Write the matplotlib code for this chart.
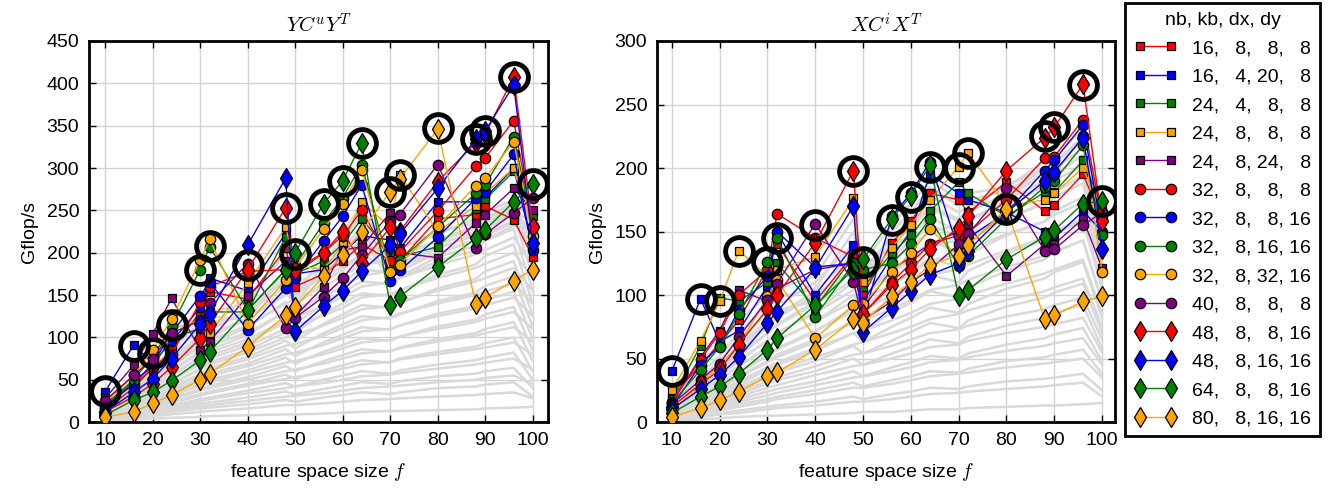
import numpy as np
import matplotlib
matplotlib.use("Agg")
import matplotlib.pyplot as plt

plt.rcParams['font.family'] = ['Liberation Sans', 'DejaVu Sans']
plt.rcParams['mathtext.fontset'] = 'cm'

# feature space sizes
f = [10, 16, 20, 24, 30, 32, 40, 48, 50, 56, 60, 64, 70, 72, 80, 88, 90, 96, 100]

# configurations nb, kb, dx, dy
configs = [(16, 8, 8, 8), (16, 4, 20, 8), (24, 4, 8, 8), (24, 8, 8, 8), (24, 8, 24, 8),
           (32, 8, 8, 8), (32, 8, 8, 16), (32, 8, 16, 16), (32, 8, 32, 16), (40, 8, 8, 8),
           (48, 8, 8, 16), (48, 8, 16, 16), (64, 8, 8, 16), (80, 8, 16, 16)]
colors = ['red', 'blue', 'green', 'orange', 'purple',
          'red', 'blue', 'green', 'orange', 'purple',
          'red', 'blue', 'green', 'orange']
markers = ['s'] * 5 + ['o'] * 5 + ['d'] * 4

# Gflop/s for Y C^u Y^T
gflops_u = [
    [22, 45, 62, 85, 130, 154, 145, 205, 160, 175, 190, 210, 191, 190, 240, 245, 255, 239, 195],
    [36, 91, 70, 95, 135, 170, 155, 223, 175, 180, 200, 220, 215, 205, 260, 260, 265, 300, 205],
    [20, 48, 65, 100, 110, 130, 130, 219, 175, 190, 210, 240, 200, 195, 207, 251, 263, 296, 243],
    [25, 55, 75, 110, 120, 105, 164, 230, 185, 180, 210, 260, 230, 292, 225, 255, 270, 300, 225],
    [28, 67, 104, 146, 85, 95, 149, 190, 125, 160, 203, 207, 247, 200, 194, 235, 245, 276, 250],
    [15, 40, 65, 80, 142, 160, 178, 180, 175, 200, 220, 250, 190, 201, 249, 302, 312, 356, 231],
    [18, 45, 69, 105, 149, 165, 109, 158, 170, 214, 243, 280, 167, 179, 218, 264, 272, 316, 203],
    [20, 50, 77, 113, 180, 207, 132, 180, 185, 235, 265, 304, 180, 191, 230, 270, 280, 337, 230],
    [22, 55, 85, 122, 191, 216, 116, 168, 182, 228, 258, 298, 177, 186, 231, 279, 288, 331, 220],
    [25, 55, 75, 105, 120, 140, 187, 111, 123, 148, 170, 197, 237, 245, 304, 205, 222, 247, 264],
    [12, 30, 45, 65, 99, 116, 180, 253, 180, 200, 225, 188, 230, 225, 284, 330, 340, 408, 230],
    [12, 35, 51, 75, 116, 128, 209, 288, 107, 137, 155, 178, 209, 222, 276, 334, 344, 398, 211],
    [8, 26, 35, 49, 73, 83, 132, 180, 200, 258, 285, 329, 138, 148, 183, 217, 227, 260, 281],
    [6, 12, 22, 32, 50, 57, 89, 126, 136, 172, 197, 225, 272, 287, 346, 139, 147, 167, 180],
]

# Gflop/s for X C^i X^T
gflops_i = [
    [20, 45, 62, 80, 121, 140, 95, 132, 100, 141, 158, 180, 175, 165, 189, 166, 171, 195, 160],
    [40, 97, 63, 72, 107, 149, 100, 139, 95, 130, 150, 195, 180, 175, 165, 150, 145, 166, 150],
    [18, 60, 98, 95, 110, 125, 90, 130, 106, 133, 147, 166, 189, 180, 162, 181, 181, 206, 170],
    [25, 64, 95, 135, 115, 120, 130, 176, 110, 137, 155, 175, 201, 212, 170, 175, 180, 200, 165],
    [15, 51, 72, 104, 95, 105, 120, 125, 90, 120, 130, 140, 150, 155, 115, 140, 140, 160, 121],
    [16, 49, 70, 100, 120, 164, 145, 130, 85, 110, 125, 140, 147, 149, 175, 208, 209, 238, 160],
    [12, 45, 60, 88, 115, 150, 122, 125, 80, 162, 180, 205, 135, 145, 165, 198, 206, 234, 150],
    [15, 41, 59, 85, 126, 145, 83, 125, 120, 125, 140, 160, 123, 131, 160, 185, 190, 218, 147],
    [8, 30, 45, 60, 99, 112, 66, 92, 93, 118, 133, 152, 130, 140, 165, 190, 195, 225, 118],
    [14, 33, 46, 67, 96, 109, 156, 110, 80, 95, 110, 120, 140, 148, 184, 135, 136, 155, 165],
    [12, 30, 41, 61, 89, 100, 141, 198, 85, 108, 120, 136, 153, 162, 198, 224, 232, 266, 158],
    [10, 26, 37, 51, 78, 87, 121, 170, 71, 90, 103, 116, 125, 135, 165, 190, 197, 224, 136],
    [7, 20, 28, 38, 57, 66, 92, 120, 128, 160, 178, 202, 99, 104, 128, 146, 151, 172, 174],
    [4, 11, 17, 24, 36, 39, 57, 81, 78, 99, 110, 124, 131, 139, 168, 81, 84, 95, 99],
]

# best configuration per f (black rings)
best_u = [37, 90, 82, 115, 180, 208, 186, 253, 198, 258, 285, 330, 272, 292, 347, 334, 344, 407, 281]
best_i = [40, 97, 95, 135, 126, 145, 155, 198, 126, 159, 177, 201, 200, 212, 168, 225, 232, 265, 174]

# all other configurations (grey)
gray_u = [
    [2, 3, 4, 5, 6, 7, 8, 9, 9, 10, 11, 12, 13, 13, 14, 15, 16, 17, 18],
    [2, 5, 7, 9, 12, 13, 16, 20, 20, 22, 24, 26, 27, 28, 30, 32, 33, 35, 28],
    [3, 8, 10, 14, 18, 20, 25, 30, 31, 34, 37, 40, 42, 43, 47, 50, 52, 55, 45],
    [4, 10, 14, 18, 24, 27, 34, 40, 42, 46, 50, 54, 56, 58, 63, 68, 70, 75, 62],
    [5, 12, 17, 23, 31, 34, 43, 51, 53, 58, 63, 68, 71, 74, 80, 86, 88, 94, 80],
    [5, 14, 20, 27, 37, 40, 50, 60, 62, 69, 75, 81, 84, 87, 95, 102, 105, 112, 95],
    [6, 16, 23, 31, 43, 47, 58, 70, 72, 80, 87, 94, 97, 101, 110, 118, 122, 130, 110],
    [7, 18, 26, 35, 49, 54, 66, 80, 82, 91, 99, 107, 110, 114, 125, 134, 138, 147, 125],
    [8, 21, 29, 40, 55, 61, 74, 90, 92, 102, 111, 120, 124, 128, 140, 150, 154, 164, 140],
    [9, 23, 32, 45, 62, 68, 82, 100, 103, 114, 123, 133, 137, 142, 155, 166, 170, 182, 155],
    [10, 25, 36, 50, 68, 75, 90, 110, 114, 126, 135, 147, 151, 156, 170, 182, 187, 200, 170],
    [11, 28, 40, 55, 75, 82, 98, 120, 124, 137, 148, 160, 165, 170, 185, 198, 203, 218, 185],
    [12, 30, 43, 60, 82, 90, 106, 130, 134, 148, 160, 173, 178, 184, 200, 214, 220, 236, 200],
    [13, 33, 47, 65, 89, 97, 114, 140, 145, 160, 172, 186, 191, 197, 214, 229, 235, 252, 215],
    [14, 36, 51, 70, 96, 104, 122, 150, 155, 170, 184, 198, 180, 188, 205, 222, 228, 245, 240],
    [15, 38, 55, 75, 103, 112, 130, 160, 150, 175, 195, 215, 170, 178, 200, 215, 222, 238, 230],
    [16, 40, 58, 80, 110, 118, 126, 170, 140, 180, 205, 230, 165, 172, 195, 208, 215, 232, 225],
    [17, 42, 60, 85, 118, 125, 120, 180, 135, 190, 215, 245, 175, 180, 210, 225, 230, 250, 205],
    [18, 44, 62, 88, 125, 130, 140, 200, 145, 200, 225, 255, 190, 195, 215, 230, 236, 255, 245],
    [12, 35, 50, 72, 100, 110, 150, 190, 160, 185, 200, 225, 200, 205, 225, 235, 240, 260, 250],
    [3, 6, 9, 12, 16, 17, 21, 26, 24, 29, 32, 35, 33, 35, 40, 42, 44, 47, 30],
    [4, 9, 12, 16, 21, 23, 29, 36, 33, 39, 43, 47, 45, 48, 54, 57, 60, 64, 40],
    [5, 11, 15, 20, 27, 29, 37, 46, 42, 50, 55, 60, 57, 61, 68, 73, 76, 82, 50],
    [6, 13, 18, 24, 33, 36, 45, 56, 51, 61, 67, 73, 70, 75, 83, 89, 93, 100, 60],
    [6, 15, 21, 28, 39, 43, 53, 66, 60, 72, 79, 86, 83, 88, 98, 105, 110, 118, 72],
    [7, 17, 24, 33, 45, 50, 61, 76, 69, 83, 91, 99, 96, 101, 113, 121, 127, 136, 85],
    [8, 19, 27, 37, 51, 57, 69, 86, 78, 94, 103, 112, 109, 114, 128, 137, 144, 154, 98],
    [9, 21, 30, 41, 57, 64, 77, 96, 87, 105, 115, 125, 122, 127, 143, 153, 161, 172, 112],
    [10, 23, 33, 45, 63, 71, 85, 106, 96, 116, 127, 138, 135, 140, 158, 169, 178, 190, 126],
    [11, 26, 37, 50, 70, 78, 94, 118, 106, 128, 140, 152, 149, 155, 174, 186, 196, 210, 140],
    [12, 29, 41, 55, 77, 85, 103, 130, 116, 140, 153, 166, 163, 170, 190, 203, 214, 228, 155],
    [13, 32, 45, 60, 84, 92, 112, 142, 126, 152, 166, 180, 177, 185, 206, 220, 232, 246, 170],
    [14, 35, 49, 66, 91, 100, 122, 155, 137, 165, 180, 196, 185, 195, 215, 232, 240, 255, 190],
    [15, 38, 53, 72, 99, 108, 132, 168, 148, 178, 195, 212, 195, 205, 222, 240, 248, 262, 210],
]
gray_i = [
    [1, 2, 3, 4, 5, 5, 6, 7, 8, 8, 9, 10, 10, 11, 12, 13, 13, 14, 15],
    [2, 4, 6, 7, 10, 11, 13, 16, 16, 18, 20, 22, 23, 24, 26, 28, 29, 31, 20],
    [3, 7, 9, 12, 16, 18, 22, 27, 27, 30, 33, 36, 38, 39, 43, 46, 47, 50, 35],
    [3, 9, 12, 16, 21, 23, 29, 35, 36, 40, 43, 47, 49, 51, 56, 60, 62, 66, 45],
    [4, 11, 15, 20, 27, 29, 37, 44, 45, 50, 54, 59, 61, 64, 70, 75, 77, 82, 55],
    [5, 13, 18, 24, 32, 35, 44, 53, 54, 60, 65, 70, 73, 76, 83, 89, 92, 98, 65],
    [6, 15, 21, 28, 37, 41, 51, 61, 63, 70, 75, 81, 85, 88, 96, 103, 106, 113, 75],
    [7, 17, 24, 32, 43, 47, 58, 70, 72, 80, 86, 93, 97, 100, 109, 117, 120, 128, 85],
    [8, 19, 27, 36, 48, 53, 65, 78, 80, 89, 96, 104, 108, 112, 122, 131, 134, 143, 95],
    [9, 21, 30, 40, 53, 58, 72, 87, 89, 99, 107, 116, 120, 124, 135, 145, 149, 158, 105],
    [10, 24, 33, 44, 59, 64, 79, 95, 97, 108, 117, 127, 132, 136, 148, 158, 163, 173, 115],
    [11, 26, 36, 48, 64, 70, 86, 104, 106, 118, 128, 138, 143, 148, 160, 172, 177, 188, 125],
    [12, 28, 39, 52, 70, 76, 93, 112, 115, 128, 138, 150, 155, 160, 172, 185, 190, 202, 135],
    [13, 31, 42, 56, 75, 82, 100, 120, 124, 137, 148, 161, 150, 158, 175, 190, 195, 210, 145],
    [14, 33, 45, 60, 80, 88, 95, 130, 115, 140, 155, 170, 160, 165, 180, 195, 200, 215, 160],
    [15, 35, 48, 65, 86, 92, 110, 140, 120, 145, 160, 178, 165, 170, 186, 200, 205, 222, 120],
    [16, 38, 52, 70, 92, 98, 105, 150, 110, 150, 165, 185, 170, 175, 182, 198, 204, 225, 150],
    [18, 45, 60, 80, 100, 105, 115, 160, 125, 155, 172, 190, 175, 180, 185, 205, 210, 230, 165],
    [2, 5, 7, 9, 12, 13, 16, 20, 18, 22, 24, 27, 26, 28, 32, 34, 35, 38, 25],
    [3, 8, 10, 14, 18, 20, 25, 31, 28, 33, 36, 40, 39, 42, 48, 51, 53, 57, 38],
    [4, 10, 14, 18, 24, 26, 32, 40, 36, 43, 47, 52, 50, 54, 61, 66, 69, 74, 48],
    [5, 12, 17, 22, 30, 33, 40, 50, 45, 54, 59, 65, 62, 67, 76, 82, 86, 92, 58],
    [6, 14, 20, 26, 35, 39, 48, 60, 54, 64, 71, 78, 74, 80, 91, 98, 102, 109, 70],
    [7, 16, 23, 30, 41, 45, 56, 70, 63, 75, 82, 90, 86, 93, 105, 113, 118, 126, 82],
    [8, 19, 26, 35, 47, 51, 63, 80, 72, 86, 94, 103, 98, 106, 119, 128, 134, 143, 95],
    [9, 21, 29, 39, 52, 57, 71, 90, 81, 97, 106, 116, 110, 119, 133, 143, 150, 160, 108],
    [10, 24, 33, 44, 58, 64, 79, 100, 90, 108, 118, 129, 122, 132, 147, 158, 166, 177, 122],
    [11, 27, 37, 49, 64, 70, 87, 110, 99, 119, 130, 142, 134, 145, 160, 173, 181, 194, 136],
    [12, 30, 41, 54, 70, 77, 95, 120, 108, 130, 142, 155, 146, 158, 172, 186, 195, 210, 150],
    [13, 33, 45, 59, 77, 84, 103, 132, 118, 140, 153, 168, 158, 170, 176, 196, 204, 220, 160],
]

msizes = {'s': 6, 'o': 7.5, 'd': 10}

fig = plt.figure(figsize=(13.4, 4.91), dpi=100)
ax1 = fig.add_axes([0.0664, 0.1405, 0.3425, 0.776])
ax2 = fig.add_axes([0.4903, 0.1405, 0.3418, 0.776])

panels = [(ax1, gflops_u, gray_u, best_u, r'$YC^uY^T$', 450, (6.6, 103.2)),
          (ax2, gflops_i, gray_i, best_i, r'$XC^iX^T$', 300, (6.9, 102.7))]

handles = []
for ax, data, grays, best, title, ymax, xl in panels:
    for g in grays:
        ax.plot(f, g, color='#d9d9d9', lw=1.8, zorder=1)
    hs = []
    for k in range(len(configs)):
        h, = ax.plot(f, data[k], color=colors[k], lw=1, marker=markers[k],
                     ms=msizes[markers[k]], mfc=colors[k], mec='black', mew=0.9, zorder=3)
        hs.append(h)
    handles = hs
    ax.plot(f, best, ls='none', marker='o', ms=20, mfc='none', mec='black', mew=3.5, zorder=5)
    ax.set_xlim(*xl)
    ax.set_ylim(0, ymax)
    ax.set_xticks(range(10, 101, 10))
    ax.set_yticks(range(0, ymax + 1, 50))
    ax.grid(True, color='#d3d3d3', lw=1)
    ax.set_axisbelow(True)
    ax.tick_params(direction='in', length=5, width=1, top=True, right=True, labelsize=14, pad=7)
    for s in ax.spines.values():
        s.set_linewidth(2)
    ax.set_title(title, fontsize=15, pad=6)
    ax.set_xlabel('feature space size $f$', fontsize=14, labelpad=9)
    ax.set_ylabel('Gflop/s', fontsize=14, labelpad=6)

labels = [', '.join(str(v).rjust(2, '\u2007') for v in c) for c in configs]
leg = fig.legend(handles, labels, title='nb, kb, dx, dy', loc='upper left',
                 bbox_to_anchor=(0.8396, 0.994), borderaxespad=0, fontsize=14, title_fontsize=14,
                 numpoints=2, handlelength=2.2, labelspacing=0.56, borderpad=0.45,
                 fancybox=False, framealpha=1, edgecolor='black')
leg.get_frame().set_linewidth(2)

fig.savefig('out.png', dpi=100)
